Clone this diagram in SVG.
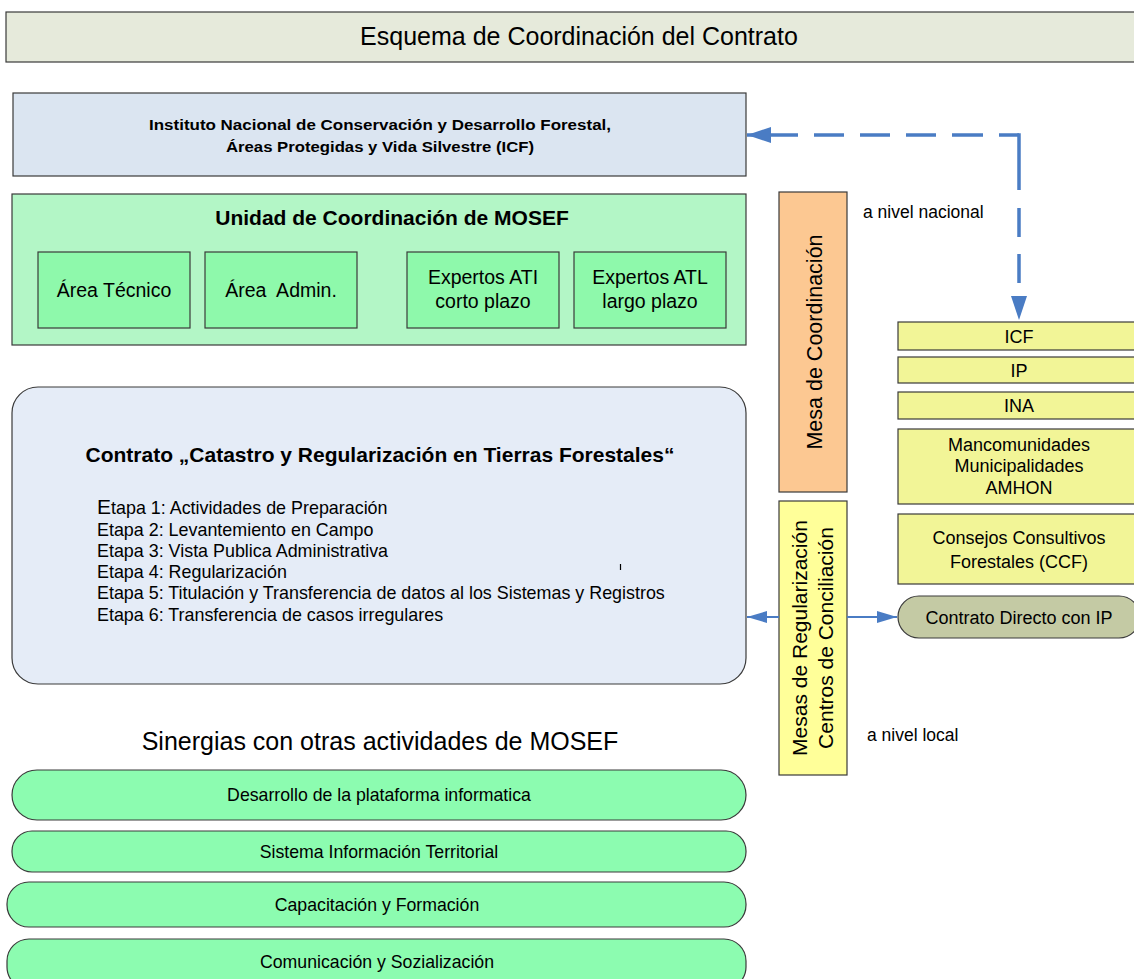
<svg xmlns="http://www.w3.org/2000/svg" width="1134" height="979" viewBox="0 0 1134 979">
<style>
text{font-family:"Liberation Sans",Arial,sans-serif;fill:#000}
.b{stroke:#3a3a3a;stroke-width:1.2}
.c{text-anchor:middle}
.s18{font-size:18px}
.e{font-size:17.9px}
.s19{font-size:19.5px}
.bold{font-weight:bold}
.cal{font-family:"Liberation Sans Narrow","Liberation Sans",Arial,sans-serif}
</style>
<defs>
<marker id="ahb" markerWidth="24" markerHeight="16" refX="24" refY="8" orient="auto" markerUnits="userSpaceOnUse" viewBox="0 0 24 16">
<path d="M0,0 L24,8 L0,16 z" fill="#4a7cc4"/>
</marker>
<marker id="ahs" markerWidth="20" markerHeight="12" refX="20" refY="6" orient="auto" markerUnits="userSpaceOnUse" viewBox="0 0 20 12">
<path d="M0,0 L20,6 L0,12 z" fill="#4a7cc4"/>
</marker>
</defs>
<rect width="1134" height="979" fill="#fff"/>

<g id="title">
<rect class="b" x="6" y="12" width="1140" height="50" fill="#e6eadb"/>
<text class="c" x="579" y="45" font-size="25">Esquema de Coordinación del Contrato</text>
</g>

<g id="icf">
<rect class="b" x="13" y="93" width="733" height="83" fill="#dbe5f1"/>
<text class="c bold cal" x="380" y="130" font-size="14.5" textLength="462" lengthAdjust="spacingAndGlyphs">Instituto Nacional de Conservación y Desarrollo Forestal,</text>
<text class="c bold cal" x="380" y="152" font-size="14.5" textLength="308" lengthAdjust="spacingAndGlyphs">Áreas Protegidas y Vida Silvestre (ICF)</text>
</g>

<g id="unidad">
<rect class="b" x="12" y="194" width="734" height="151" fill="#b3f6c6"/>
<text class="c bold" x="392" y="225" font-size="21">Unidad de Coordinación de MOSEF</text>
</g>
<g id="area-tecnico">
<rect class="b" x="38" y="252" width="152" height="76" fill="#8ef9ab"/>
<text class="c s19" x="114" y="297">Área Técnico</text>
</g>
<g id="area-admin">
<rect class="b" x="205" y="252" width="152" height="76" fill="#8ef9ab"/>
<text class="c s19" x="281" y="297" xml:space="preserve">Área  Admin.</text>
</g>
<g id="expertos-ati">
<rect class="b" x="407" y="252" width="152" height="76" fill="#8ef9ab"/>
<text class="c s19" x="483" y="284">Expertos ATI</text>
<text class="c s19" x="483" y="308">corto plazo</text>
</g>
<g id="expertos-atl">
<rect class="b" x="574" y="252" width="152" height="76" fill="#8ef9ab"/>
<text class="c s19" x="650" y="284">Expertos ATL</text>
<text class="c s19" x="650" y="308">largo plazo</text>
</g>

<g id="contrato">
<rect class="b" x="12" y="387" width="734" height="297" rx="26" ry="26" fill="#e5ecf7"/>
<text class="c bold" x="380" y="462" font-size="21">Contrato „Catastro y Regularización en Tierras Forestales“</text>
<text x="97" y="514" class="e"><tspan font-size="21">E</tspan>tapa 1: Actividades de Preparación</text>
<text x="97" y="536" class="e">Etapa 2: Levantemiento en Campo</text>
<text x="97" y="557" class="e">Etapa 3: Vista Publica Administrativa</text>
<text x="97" y="578" class="e">Etapa 4: Regularización</text>
<text x="97" y="599" class="e">Etapa 5: Titulación y Transferencia de datos al los Sistemas y Registros</text>
<text x="97" y="621" class="e">Etapa 6: Transferencia de casos irregulares</text>
<line x1="620.5" y1="564" x2="620.5" y2="570" stroke="#000" stroke-width="1.2"/>
</g>

<g id="mesa-coordinacion">
<rect class="b" x="779" y="192" width="68" height="300" fill="#fcc892"/>
<text class="c" font-size="21.5" transform="translate(822,342) rotate(-90)">Mesa de Coordinación</text>
</g>

<g id="mesas-regularizacion">
<rect class="b" x="779" y="501" width="68" height="274" fill="#ffff99"/>
<text class="c" font-size="21" transform="translate(807,638) rotate(-90)">Mesas de Regularización</text>
<text class="c" font-size="21" transform="translate(833,638) rotate(-90)">Centros de Conciliación</text>
</g>

<g id="lbl-nacional"><text x="863" y="218" font-size="17.5">a nivel nacional</text></g>
<g id="lbl-local"><text x="867" y="741" font-size="17.5">a nivel local</text></g>

<g id="r-icf">
<rect class="b" x="898" y="322" width="250" height="28" fill="#f2f597"/>
<text class="c s18" x="1019" y="343">ICF</text>
</g>
<g id="r-ip">
<rect class="b" x="898" y="357" width="250" height="26" fill="#f2f597"/>
<text class="c s18" x="1019" y="377">IP</text>
</g>
<g id="r-ina">
<rect class="b" x="898" y="392" width="250" height="27" fill="#f2f597"/>
<text class="c s18" x="1019" y="412">INA</text>
</g>
<g id="r-manc">
<rect class="b" x="898" y="429" width="250" height="75" fill="#f2f597"/>
<text class="c s18" x="1019" y="451">Mancomunidades</text>
<text class="c s18" x="1019" y="472">Municipalidades</text>
<text class="c s18" x="1019" y="494">AMHON</text>
</g>
<g id="r-ccf">
<rect class="b" x="898" y="514" width="250" height="70" fill="#f2f597"/>
<text class="c s18" x="1019" y="544">Consejos Consultivos</text>
<text class="c s18" x="1019" y="568">Forestales (CCF)</text>
</g>
<g id="r-directo">
<rect class="b" x="898" y="596" width="242" height="42" rx="21" ry="21" fill="#c4caa4"/>
<text class="c s18" x="1019" y="624">Contrato Directo con IP</text>
</g>

<g id="sinergias">
<text class="c" x="380" y="750" font-size="25">Sinergias con otras actividades de MOSEF</text>
</g>
<g id="s1">
<rect class="b" x="12" y="770" width="734" height="50" rx="25" ry="25" fill="#8cfcb0"/>
<text class="c" x="379" y="801" font-size="17.7">Desarrollo de la plataforma informatica</text>
</g>
<g id="s2">
<rect class="b" x="12" y="831" width="734" height="41" rx="20" ry="20" fill="#8cfcb0"/>
<text class="c" x="379" y="858" font-size="17.7">Sistema Información Territorial</text>
</g>
<g id="s3">
<rect class="b" x="7" y="882" width="739" height="45" rx="22" ry="22" fill="#8cfcb0"/>
<text class="c" x="377" y="911" font-size="17.7">Capacitación y Formación</text>
</g>
<g id="s4">
<rect class="b" x="7" y="939" width="739" height="50" rx="22" ry="22" fill="#8cfcb0"/>
<text class="c" x="377" y="968" font-size="17.7">Comunicación y Sozialización</text>
</g>

<g id="connectors" fill="none" stroke="#4a7cc4">
<path d="M1019,135 L747,135" stroke-width="3.5" stroke-dasharray="20 16 31 16 30 16 30 16 30 16 300" marker-end="url(#ahb)"/>
<path d="M1019,133.25 L1019,320" stroke-width="3.5" stroke-dasharray="56.75 18 29 17 29 300" marker-end="url(#ahb)"/>
<line x1="779" y1="617" x2="747" y2="617" stroke-width="2" marker-end="url(#ahs)"/>
<line x1="847" y1="617" x2="897" y2="617" stroke-width="2" marker-end="url(#ahs)"/>
</g>
</svg>
